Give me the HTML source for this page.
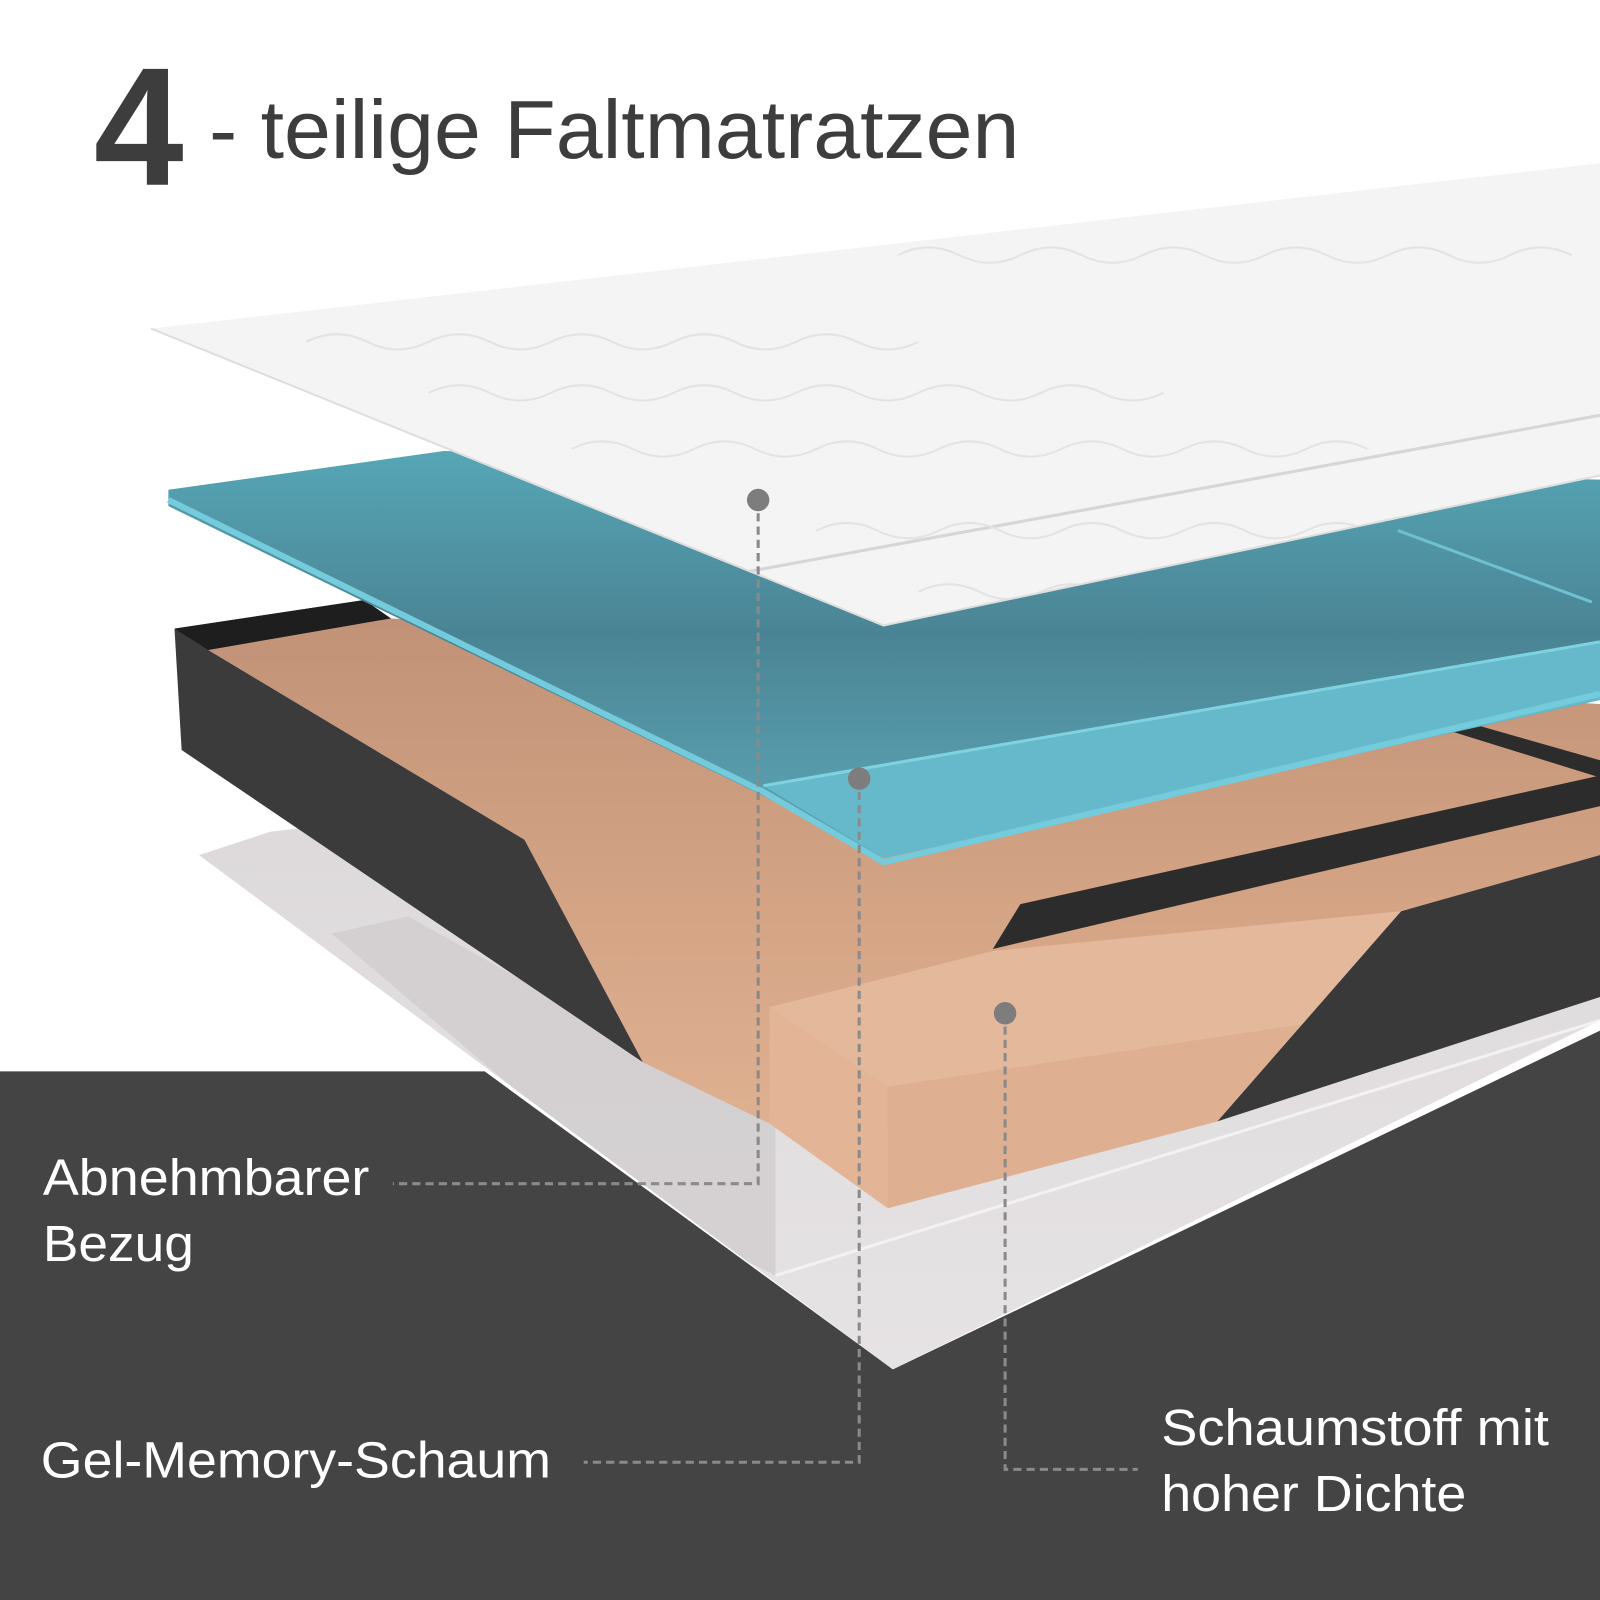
<!DOCTYPE html>
<html><head><meta charset="utf-8">
<style>
html,body{margin:0;padding:0;background:#fff;}
svg{display:block;}
</style></head>
<body>
<svg width="1600" height="1600" viewBox="0 0 1568 1568" xmlns="http://www.w3.org/2000/svg">
<defs>
<linearGradient id="blue" x1="0" y1="0" x2="0" y2="1">
<stop offset="0" stop-color="#56a6b6"/>
<stop offset="0.45" stop-color="#4a8494"/>
<stop offset="1" stop-color="#5fa9b9"/>
</linearGradient>
<linearGradient id="foam" x1="0" y1="0" x2="0" y2="1">
<stop offset="0" stop-color="#c29278"/>
<stop offset="0.5" stop-color="#d4a485"/>
<stop offset="1" stop-color="#e2b696"/>
</linearGradient>
<linearGradient id="sheet" x1="0" y1="0" x2="0" y2="1">
<stop offset="0" stop-color="#dcd8da"/>
<stop offset="1" stop-color="#e6e3e5"/>
</linearGradient>
<clipPath id="coverClip"><polygon points="148,322 1568,160 1568,466 866,613"/></clipPath>
<clipPath id="sheetClip"><polygon points="195,838 265,815 1300,700 1568,700 1568,1000 875,1342"/></clipPath>
</defs>
<rect width="1568" height="1568" fill="#fff"/>
<!-- dark bottom -->
<polygon points="0,1050 475,1050 875,1342 1568,1010 1568,1568 0,1568" fill="#444"/>
<!-- bottom sheet -->
<polygon points="195,838 265,815 1300,700 1568,700 1568,1000 875,1342" fill="url(#sheet)"/>
<g clip-path="url(#sheetClip)">
<polygon points="325,915 400,898 760,1100 760,1250 660,1200" fill="#cfcacc" opacity="0.7"/>
<polyline points="760,1250 1568,1000" stroke="#f2f2f2" stroke-width="3" fill="none"/>
</g>
<!-- foam main -->
<polygon points="204,637 383,606 1568,690 1568,840 1372,893 1193,1099 870,1184 754,1101 630,1041 514,823" fill="url(#foam)"/>
<!-- dark left box -->
<polygon points="171,616 357,588 383,606 204,637 514,823 630,1041 178,735" fill="#3b3b3b"/>
<polygon points="171,616 357,588 383,606 204,637" fill="#1e1e1e"/>
<!-- rail -->
<polygon points="973,930 1000,886 1568,760 1568,790" fill="#2c2c2c"/>
<polygon points="1420,716 1445,710 1568,745 1568,762" fill="#2c2c2c"/>
<!-- right dark face -->
<polygon points="1373,893 1568,838 1568,977 1193,1099" fill="#393939"/>
<!-- block -->
<polygon points="754,987 870,1065 870,1184 754,1101" fill="#e3b596"/>
<polygon points="754,987 973,932 1373,893 1276,1004 870,1065" fill="#e4b89a"/>
<polygon points="870,1065 1276,1004 1193,1099 870,1184" fill="#deaf90"/>
<!-- blue gel layer -->
<polygon points="165,480 435,442 1568,470 1568,686 866,841 748,780 165,496" fill="url(#blue)"/>
<polygon points="748,770 1568,629 1568,686 866,841" fill="#66b9ca"/>
<polyline points="165,490 748,776 866,845 1568,680" stroke="#74cbdb" stroke-width="6" fill="none"/>
<polyline points="748,770 1568,629" stroke="#7fd2e0" stroke-width="3" fill="none"/>
<polyline points="1370,520 1560,590" stroke="#6fc0d0" stroke-width="3" fill="none"/>
<!-- white cover -->
<polygon points="148,322 1568,160 1568,466 866,613" fill="#f4f4f4"/>
<g clip-path="url(#coverClip)">
<polyline points="734,560 1568,407" stroke="#d6d6d6" stroke-width="3" fill="none"/>
<g stroke="#e3e3e3" stroke-width="2" fill="none">
<path d="M300,335 q30,-15 60,0 t60,0 t60,0 t60,0 t60,0 t60,0 t60,0 t60,0 t60,0 t60,0"/>
<path d="M420,385 q30,-15 60,0 t60,0 t60,0 t60,0 t60,0 t60,0 t60,0 t60,0 t60,0 t60,0 t60,0 t60,0"/>
<path d="M560,440 q30,-15 60,0 t60,0 t60,0 t60,0 t60,0 t60,0 t60,0 t60,0 t60,0 t60,0 t60,0 t60,0 t60,0"/>
<path d="M880,250 q30,-15 60,0 t60,0 t60,0 t60,0 t60,0 t60,0 t60,0 t60,0 t60,0 t60,0 t60,0"/>
<path d="M800,520 q30,-15 60,0 t60,0 t60,0 t60,0 t60,0 t60,0 t60,0 t60,0 t60,0 t60,0 t60,0 t60,0"/>
<path d="M900,580 q30,-15 60,0 t60,0 t60,0 t60,0 t60,0 t60,0 t60,0 t60,0 t60,0 t60,0"/>
</g>
</g>
<polyline points="148,322 866,613 1568,466" stroke="#dedede" stroke-width="2" fill="none"/>
<!-- connectors -->
<g stroke="#8a8a8a" stroke-width="3" stroke-dasharray="8,5" fill="none">
<polyline points="743,490 743,1160 385,1160"/>
<polyline points="842,763 842,1433 572,1433"/>
<polyline points="985,993 985,1440 1115,1440"/>
</g>
<g fill="#7d7d7d"><circle cx="743" cy="490" r="11"/><circle cx="842" cy="763" r="11"/><circle cx="985" cy="993" r="11"/></g>
<!-- title -->
<text x="92" y="181" font-family="Liberation Sans, sans-serif" font-weight="bold" font-size="165" fill="#3d3d3d" textLength="88" lengthAdjust="spacingAndGlyphs">4</text>
<text x="205" y="155" font-family="Liberation Sans, sans-serif" font-size="81" fill="#3d3d3d" textLength="794" lengthAdjust="spacingAndGlyphs">- teilige Faltmatratzen</text>
<!-- labels -->
<g font-family="Liberation Sans, sans-serif" font-size="50" fill="#fff">
<text x="42" y="1171" textLength="320" lengthAdjust="spacingAndGlyphs">Abnehmbarer</text>
<text x="42" y="1236" textLength="148" lengthAdjust="spacingAndGlyphs">Bezug</text>
<text x="40" y="1448" textLength="500" lengthAdjust="spacingAndGlyphs">Gel-Memory-Schaum</text>
<text x="1138" y="1416" textLength="380" lengthAdjust="spacingAndGlyphs">Schaumstoff mit</text>
<text x="1138" y="1481" textLength="299" lengthAdjust="spacingAndGlyphs">hoher Dichte</text>
</g>
</svg>
</body></html>
